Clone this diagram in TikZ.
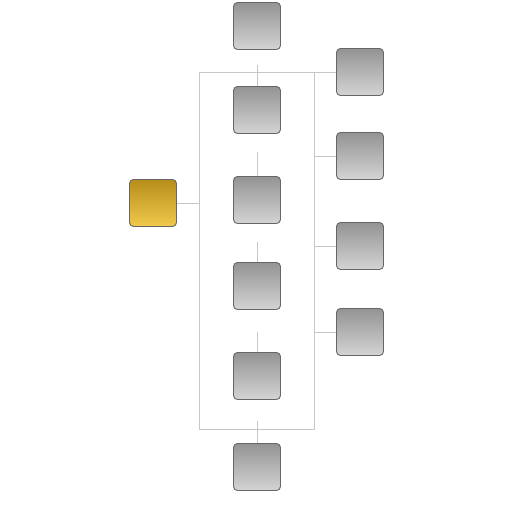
\documentclass[tikz,border=0pt]{standalone}
\usetikzlibrary{calc}
\begin{document}
\begin{tikzpicture}[x=1pt,y=-1pt,
  box/.style={draw=black!60,line width=0.9pt,rounded corners=4pt,minimum width=47pt,minimum height=47pt,inner sep=0pt,top color=black!42,bottom color=black!17},
  goldbox/.style={box,top color={rgb,255:red,184;green,142;blue,28},bottom color={rgb,255:red,240;green,200;blue,74}},
  link/.style={draw=black!22,line width=0.9pt}]
\useasboundingbox (0,0) rectangle (512,512);
\node[box] (t) at (257,26) {};
\node[box] (c1) at (257,110) {};
\node[box] (c2) at (257,200) {};
\node[box] (c3) at (257,286) {};
\node[box] (c4) at (257,376) {};
\node[box] (b) at (257,467) {};
\node[box] (r1) at (360,72) {};
\node[box] (r2) at (360,156) {};
\node[box] (r3) at (360,246) {};
\node[box] (r4) at (360,332) {};
\node[goldbox] (g) at (153,203) {};
\coordinate (fl) at (199,203);
\draw[link] (199,72) rectangle (314,429);
\draw[link] (g.east) -- (fl);
\draw[link] (c1.north) -- ++(0,-21);
\draw[link] (c2.north) -- ++(0,-24);
\draw[link] (c3.north) -- ++(0,-20);
\draw[link] (c4.north) -- ++(0,-20);
\draw[link] (b.north) -- ++(0,-22);
\draw[link] (r1.west) -- ++(-22,0);
\draw[link] (r2.west) -- ++(-22,0);
\draw[link] (r3.west) -- ++(-22,0);
\draw[link] (r4.west) -- ++(-22,0);
\end{tikzpicture}
\end{document}
